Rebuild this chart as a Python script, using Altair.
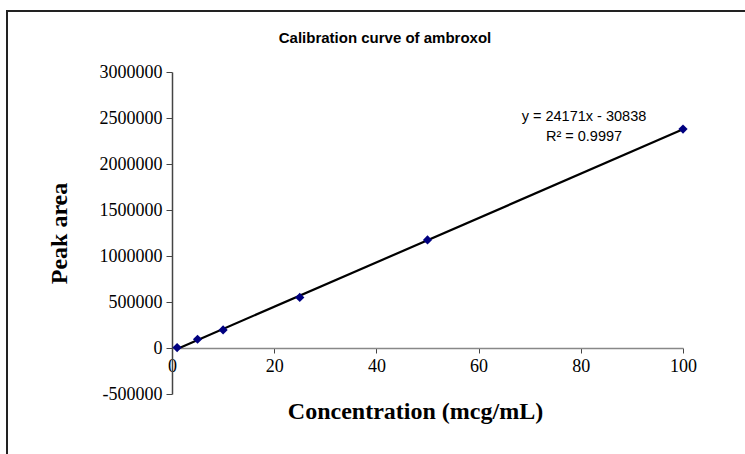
import altair as alt
import pandas as pd

# Data
conc = [1, 5, 10, 25, 50, 100]
area = [5000, 95000, 196000, 550000, 1175000, 2380000]
y_ticks = [-500000, 0, 500000, 1000000, 1500000, 2000000, 2500000, 3000000]
x_ticks = [0, 20, 40, 60, 80, 100]
equation_lines = ["y = 24171x - 30838", "R\u00b2 = 0.9997"]
chart_title = "Calibration curve of ambroxol"
x_title = "Concentration (mcg/mL)"
y_title = "Peak area"

df = pd.DataFrame({"conc": conc, "area": area})

W, H = 511, 322
LEFT, TOP = 172, 72

xscale = alt.Scale(domain=[0, 100], nice=False, zero=False)
yscale = alt.Scale(domain=[-500000, 3000000], nice=False, zero=False)

x_enc = alt.X(
    "conc:Q",
    scale=xscale,
    axis=alt.Axis(
        values=x_ticks,
        offset=-46,
        grid=False,
        title=x_title,
        titleFont="Liberation Serif",
        titleFontSize=24,
        titleFontWeight="bold",
        titleColor="black",
        titleX=243,
        titleY=70,
        titleBaseline="alphabetic",
        titleAnchor="start",
        titleAlign="center",
        labelFont="Liberation Serif",
        labelFontSize=18,
        labelColor="black",
        labelPadding=4,
        labelFlush=False,
        tickSize=5,
        tickColor="#444",
        domainColor="#888",
        domainWidth=1.5,
        format="d",
    ),
)
y_enc = alt.Y(
    "area:Q",
    scale=yscale,
    axis=alt.Axis(
        values=y_ticks,
        grid=False,
        title=y_title,
        titleFont="Liberation Serif",
        titleFontSize=24,
        titleFontWeight="bold",
        titleColor="black",
        titleAngle=270,
        titleX=-106,
        titleY=161,
        titleBaseline="alphabetic",
        titleAlign="center",
        titleAnchor="start",
        labelFont="Liberation Serif",
        labelFontSize=18,
        labelColor="black",
        labelPadding=4,
        labelFlush=False,
        labelExpr="datum.value < 0 ? '-' + format(-datum.value, 'd') : format(datum.value, 'd')",
        tickSize=6,
        tickColor="#444",
        domainColor="#444",
        domainWidth=1.5,
    ),
)

base = alt.Chart(df)

frame = base.mark_rect(fill=None, stroke="#222", strokeWidth=2).encode(
    x=alt.value(7 - LEFT), x2=alt.value(900), y=alt.value(11 - TOP), y2=alt.value(600)
).transform_filter(alt.datum.conc == 1)

line = base.transform_regression("conc", "area").mark_line(
    color="black", strokeWidth=2.2
).encode(x=x_enc, y=y_enc)

points = base.mark_point(shape="diamond", filled=True, size=85, color="#000080", opacity=1).encode(
    x=alt.X("conc:Q", scale=xscale), y=alt.Y("area:Q", scale=yscale)
)

eq = base.transform_filter(alt.datum.conc == 1).mark_text(
    text=equation_lines,
    font="Liberation Sans",
    fontSize=14.5,
    lineHeight=20,
    align="center",
    baseline="top",
    color="black",
).encode(x=alt.value(584 - LEFT), y=alt.value(110 - TOP))

ttl = base.transform_filter(alt.datum.conc == 1).mark_text(
    text=chart_title,
    font="Liberation Sans",
    fontSize=15,
    fontWeight="bold",
    align="center",
    baseline="alphabetic",
    color="black",
).encode(x=alt.value(385 - LEFT), y=alt.value(43 - TOP))

chart = (
    alt.layer(frame, line, points, eq, ttl)
    .properties(
        width=W,
        height=H,
        autosize=alt.AutoSizeParams(type="none"),
        padding={"left": LEFT, "top": TOP, "right": 745 - LEFT - W, "bottom": 454 - TOP - H},
        background="white",
    )
    .configure_view(stroke=None)
)

chart.save("out.html", embed_options={"renderer": "svg", "actions": False})
